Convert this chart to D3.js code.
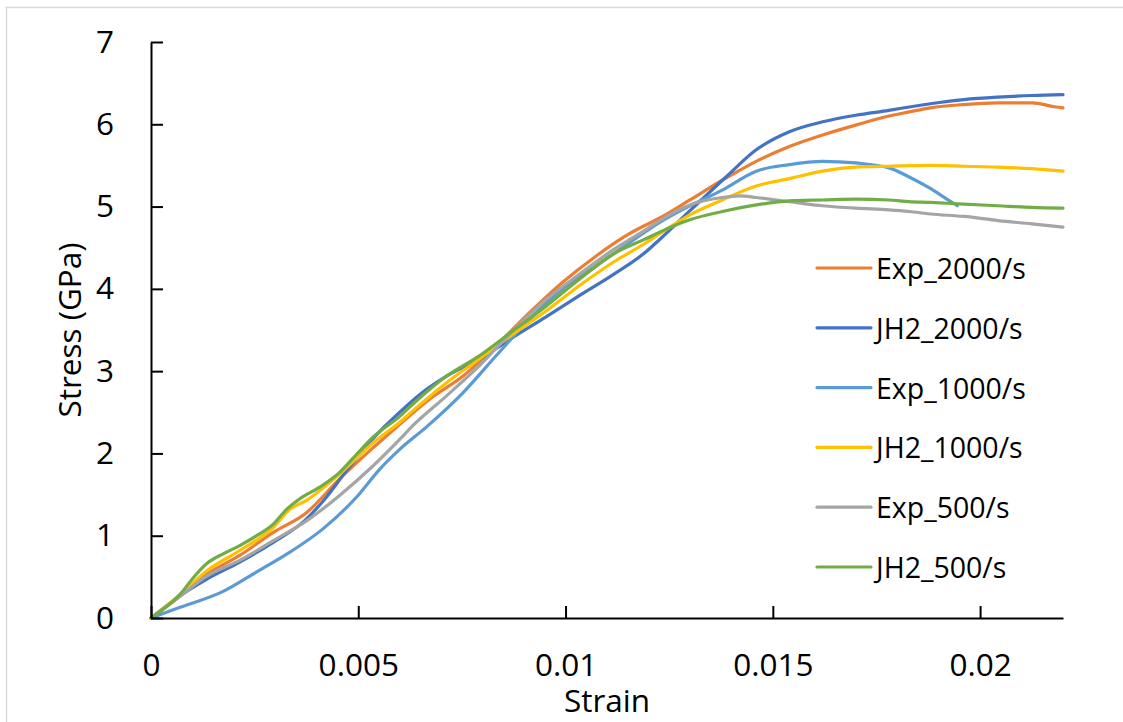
<!DOCTYPE html>
<html>
<head>
<meta charset="utf-8">
<script src="https://cdn.jsdelivr.net/npm/d3@7"></script>
<style>
    body { margin: 0; background: #ffffff; }
    text { font-family: "Open Sans", sans-serif; fill: #000000; }
</style>
</head>
<body>
<div id="canvas"></div>
<script>
"use strict"

/* Data: [strain, stress GPa] */
let exp2000 = [
    [0, 0], [0.00074, 0.28], [0.00134, 0.53], [0.00214, 0.76], [0.00295, 1.04],
    [0.00375, 1.28], [0.00455, 1.69], [0.00536, 2.07], [0.0059, 2.31], [0.00672, 2.66],
    [0.00753, 2.94], [0.00833, 3.31], [0.00913, 3.71], [0.00993, 4.08], [0.01074, 4.40],
    [0.01154, 4.67], [0.01234, 4.88], [0.013, 5.08], [0.01378, 5.32], [0.0146, 5.55],
    [0.0154, 5.73], [0.0162, 5.87], [0.017, 5.99], [0.0178, 6.10], [0.01829, 6.15],
    [0.0188, 6.20], [0.01961, 6.24], [0.02043, 6.26], [0.02125, 6.26], [0.02183, 6.21],
    [0.022, 6.20]
];
let jh2000 = [
    [0, 0], [0.0007, 0.27], [0.00134, 0.47], [0.00214, 0.68], [0.00295, 0.92],
    [0.0037, 1.18], [0.0042, 1.45], [0.0047, 1.78], [0.0053, 2.15], [0.006, 2.50],
    [0.0066, 2.76], [0.0072, 2.96], [0.0079, 3.14], [0.00873, 3.41], [0.00953, 3.66],
    [0.01034, 3.92], [0.01114, 4.17], [0.01194, 4.45], [0.01227, 4.60], [0.013, 4.95],
    [0.01387, 5.36], [0.0146, 5.69], [0.0154, 5.91], [0.0162, 6.03], [0.017, 6.11],
    [0.0178, 6.17], [0.01829, 6.21], [0.0188, 6.25], [0.01961, 6.30], [0.02043, 6.33],
    [0.02125, 6.35], [0.022, 6.36]
];
let exp1000 = [
    [0, 0], [0.0007, 0.13], [0.00173, 0.32], [0.00255, 0.56], [0.00335, 0.80],
    [0.00414, 1.08], [0.00496, 1.47], [0.00552, 1.81], [0.006, 2.05], [0.00664, 2.32],
    [0.00753, 2.74], [0.00833, 3.19], [0.00913, 3.63], [0.00993, 4.00], [0.01074, 4.28],
    [0.01154, 4.56], [0.01234, 4.83], [0.013, 5.01], [0.01378, 5.20], [0.0146, 5.43],
    [0.0154, 5.51], [0.0162, 5.55], [0.017, 5.53], [0.0178, 5.47], [0.01829, 5.36],
    [0.0188, 5.22], [0.0192, 5.09], [0.01945, 5.01]
];
let jh1000 = [
    [0, 0], [0.00074, 0.30], [0.00134, 0.57], [0.00214, 0.82], [0.00295, 1.10],
    [0.00335, 1.32], [0.00375, 1.43], [0.00455, 1.75], [0.00536, 2.13], [0.006, 2.38],
    [0.00632, 2.52], [0.00713, 2.86], [0.00793, 3.15], [0.00873, 3.45], [0.00953, 3.73],
    [0.01034, 4.04], [0.01114, 4.32], [0.01194, 4.56], [0.01227, 4.67], [0.013, 4.90],
    [0.01378, 5.08], [0.0146, 5.25], [0.0154, 5.34], [0.0162, 5.43], [0.017, 5.48],
    [0.0178, 5.49], [0.0188, 5.50], [0.01961, 5.49], [0.02043, 5.48], [0.02125, 5.46],
    [0.022, 5.43]
];
let exp500 = [
    [0, 0], [0.00074, 0.28], [0.00134, 0.51], [0.00214, 0.70], [0.00295, 0.94],
    [0.00375, 1.18], [0.00455, 1.49], [0.00536, 1.85], [0.006, 2.17], [0.00632, 2.34],
    [0.00713, 2.70], [0.00793, 3.07], [0.00873, 3.49], [0.00953, 3.87], [0.01034, 4.18],
    [0.01114, 4.47], [0.01194, 4.72], [0.01227, 4.83], [0.013, 5.02], [0.01378, 5.11],
    [0.0142, 5.13], [0.0146, 5.11], [0.0154, 5.06], [0.0162, 5.01], [0.017, 4.98],
    [0.0178, 4.96], [0.01829, 4.94], [0.0188, 4.91], [0.01961, 4.88], [0.02043, 4.83],
    [0.02125, 4.79], [0.022, 4.75]
];
let jh500 = [
    [0, 0], [0.00074, 0.31], [0.00102, 0.49], [0.00134, 0.66], [0.00174, 0.78],
    [0.00214, 0.88], [0.00255, 1.00], [0.00295, 1.14], [0.00327, 1.32], [0.00359, 1.45],
    [0.00407, 1.59], [0.00455, 1.77], [0.00496, 1.99], [0.00536, 2.20], [0.006, 2.45],
    [0.00632, 2.60], [0.00713, 2.94], [0.00793, 3.19], [0.00873, 3.49], [0.00953, 3.79],
    [0.01034, 4.12], [0.01114, 4.42], [0.01194, 4.61], [0.01227, 4.69], [0.013, 4.84],
    [0.01378, 4.94], [0.0146, 5.02], [0.0154, 5.07], [0.0162, 5.08], [0.017, 5.09],
    [0.0178, 5.08], [0.01829, 5.06], [0.0188, 5.05], [0.01961, 5.03], [0.02043, 5.01],
    [0.02125, 4.99], [0.022, 4.98]
];

let seriesNames = ["Exp_2000/s", "JH2_2000/s", "Exp_1000/s", "JH2_1000/s", "Exp_500/s", "JH2_500/s"];
let seriesData = [exp2000, jh2000, exp1000, jh1000, exp500, jh500];
let seriesColors = ["#ED7D31", "#4472C4", "#5B9BD5", "#FFC000", "#A5A5A5", "#70AD47"];

let xTicks = [0, 0.005, 0.01, 0.015, 0.02];
let yTicks = [0, 1, 2, 3, 4, 5, 6, 7];

/* Drawing config */
let svgWidth = 1123;
let svgHeight = 722;
let plotLeft = 151;
let plotRight = 1063;
let plotTop = 42;
let plotBottom = 618;

let svg = d3.select("#canvas")
    .append("svg")
    .attr("width", svgWidth)
    .attr("height", svgHeight);

svg.append("rect")
    .attr("width", svgWidth)
    .attr("height", svgHeight)
    .attr("fill", "#ffffff");

// chart frame (only left/top edges fall inside the picture)
svg.append("rect")
    .attr("x", 6.5)
    .attr("y", 7.5)
    .attr("width", 1300)
    .attr("height", 900)
    .attr("fill", "none")
    .attr("stroke", "#d9d9d9")
    .attr("stroke-width", 1.5);

let xScale = d3.scaleLinear()
    .domain([0, 0.022])
    .range([plotLeft, plotRight]);

let yScale = d3.scaleLinear()
    .domain([0, 7])
    .range([plotBottom, plotTop]);

/* lines */
let line = d3.line()
    .x(d => xScale(d[0]))
    .y(d => yScale(d[1]))
    .curve(d3.curveMonotoneX);

svg.selectAll(".series")
    .data(seriesData)
    .join("path")
    .attr("class", "series")
    .attr("fill", "none")
    .attr("stroke", (d, i) => seriesColors[i])
    .attr("stroke-width", 3.2)
    .attr("stroke-linejoin", "round")
    .attr("stroke-linecap", "round")
    .attr("d", d => line(d));

/* axes, ticks point inward */
let xAxis = svg.append("g")
    .attr("transform", `translate(0,${plotBottom})`)
    .call(d3.axisBottom(xScale)
        .tickValues(xTicks)
        .tickSizeInner(-12)
        .tickSizeOuter(0)
        .tickPadding(36)
        .tickFormat(d => String(+d.toFixed(3))));

let yAxis = svg.append("g")
    .attr("transform", `translate(${plotLeft},0)`)
    .call(d3.axisLeft(yScale)
        .tickValues(yTicks)
        .tickSizeInner(-12)
        .tickSizeOuter(0)
        .tickPadding(37)
        .tickFormat(d3.format("d")));

[xAxis, yAxis].forEach(ax => {
    ax.select(".domain").attr("stroke", "#000").attr("stroke-width", 2);
    ax.selectAll(".tick line").attr("stroke", "#000").attr("stroke-width", 2);
    ax.selectAll(".tick text")
        .style("font-family", "'Open Sans', sans-serif")
        .style("font-size", "31.5px")
        .attr("fill", "#000");
});

/* axis titles */
svg.append("text")
    .attr("x", (plotLeft + plotRight) / 2)
    .attr("y", 712)
    .attr("text-anchor", "middle")
    .style("font-size", "31.5px")
    .text("Strain");

svg.append("text")
    .attr("transform", `translate(81,${(plotTop + plotBottom) / 2}) rotate(-90)`)
    .attr("text-anchor", "middle")
    .style("font-size", "31.5px")
    .text("Stress (GPa)");

/* legend */
let legendX = 817;
let legendY = 268;
let legendStep = 59.8;

let legend = svg.selectAll(".legend")
    .data(seriesNames)
    .join("g")
    .attr("class", "legend")
    .attr("transform", (d, i) => `translate(${legendX},${legendY + i * legendStep})`);

legend.append("line")
    .attr("x1", 0)
    .attr("x2", 54)
    .attr("stroke", (d, i) => seriesColors[i])
    .attr("stroke-width", 3.2)
    .attr("stroke-linecap", "round");

legend.append("text")
    .attr("x", 59)
    .attr("dominant-baseline", "central")
    .style("font-size", "28.5px")
    .text(d => d);
</script>
</body>
</html>
